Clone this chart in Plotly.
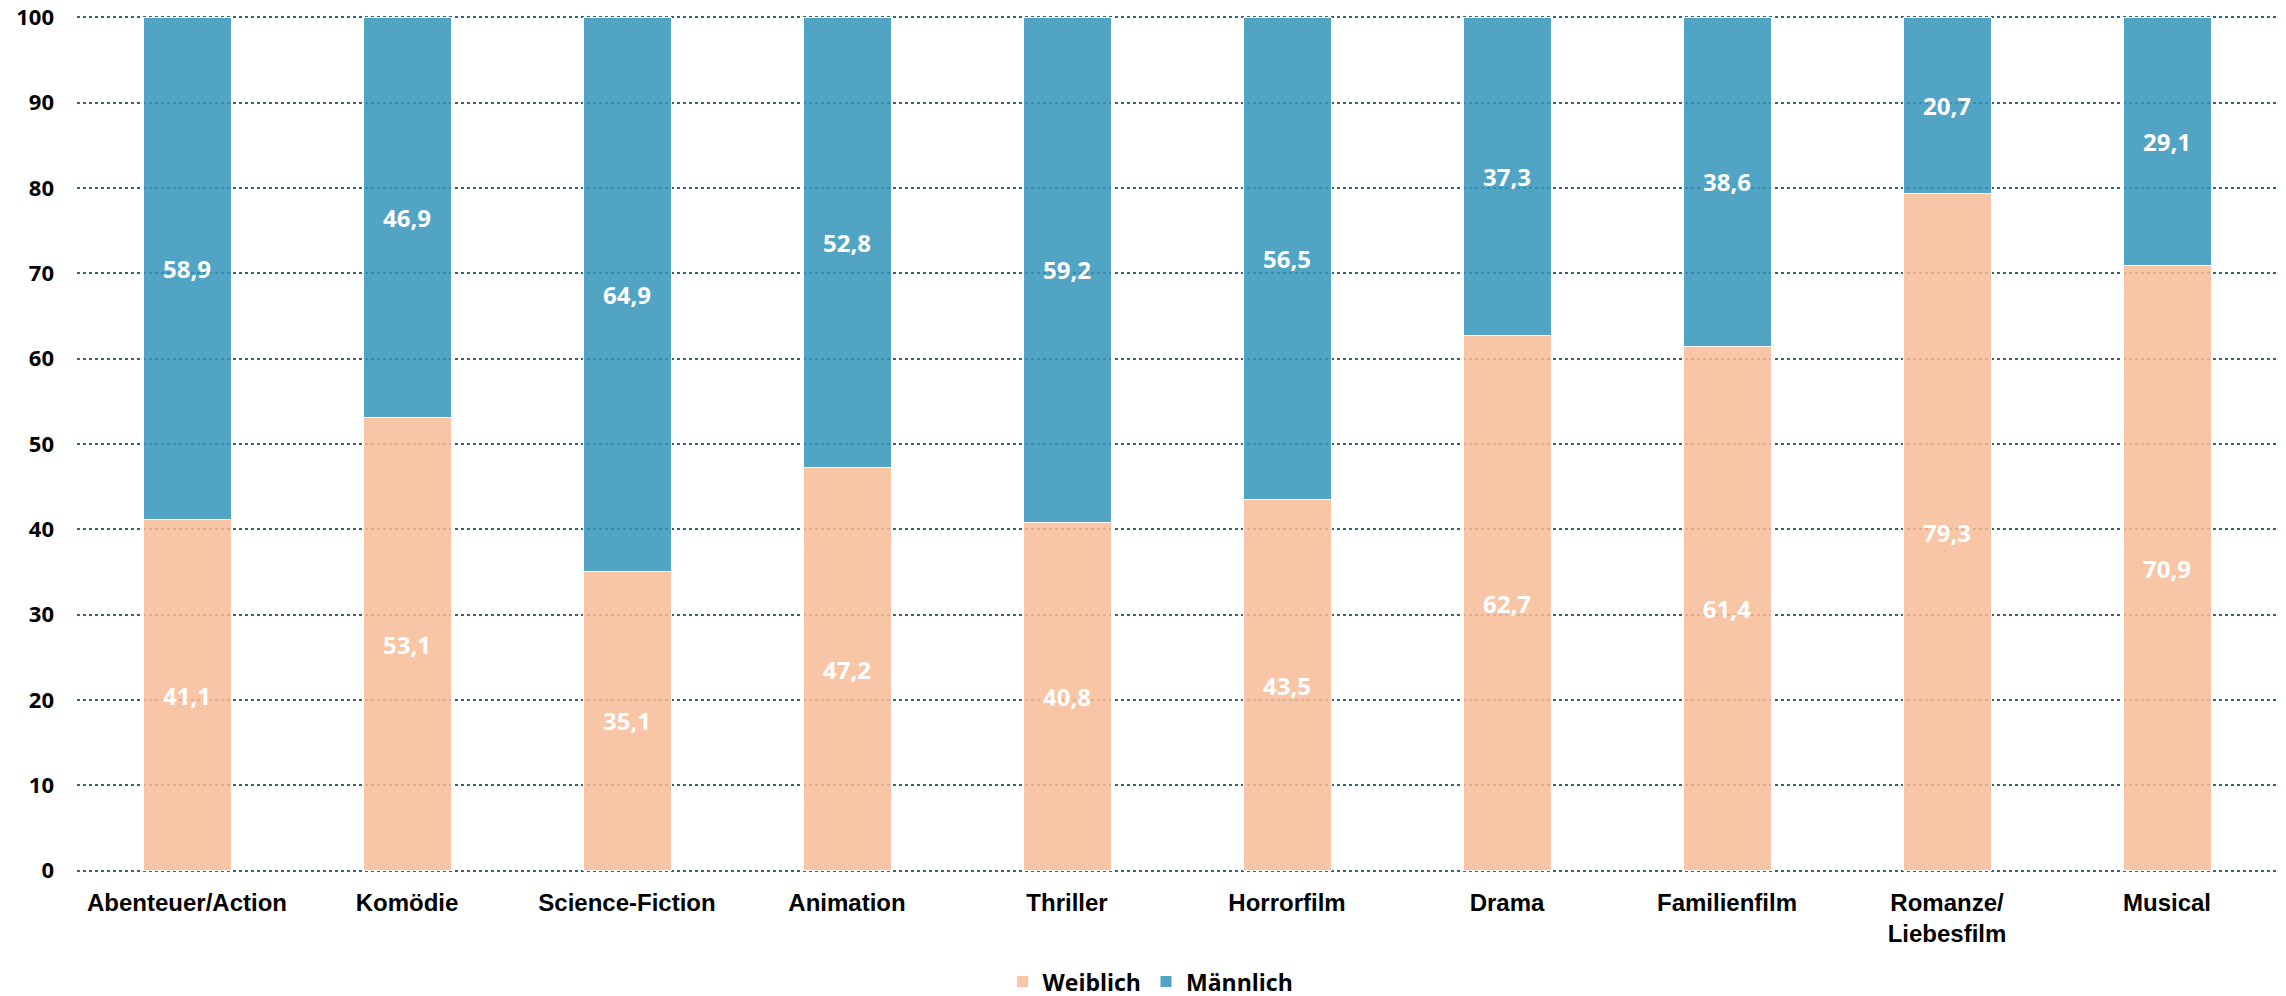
import plotly.graph_objects as go

categories = ["Abenteuer/Action", "Komödie", "Science-Fiction", "Animation", "Thriller",
              "Horrorfilm", "Drama", "Familienfilm", "Romanze/<br>Liebesfilm", "Musical"]
weiblich = [41.1, 53.1, 35.1, 47.2, 40.8, 43.5, 62.7, 61.4, 79.3, 70.9]
maennlich = [58.9, 46.9, 64.9, 52.8, 59.2, 56.5, 37.3, 38.6, 20.7, 29.1]
y_ticks = [0, 10, 20, 30, 40, 50, 60, 70, 80, 90, 100]


def fmt(v):
    return f"{v:.1f}".replace(".", ",")


label_font = dict(family="Open Sans", size=24, color="white")

fig = go.Figure()
fig.add_trace(go.Bar(
    name="Weiblich", x=categories, y=weiblich,
    marker=dict(color="rgba(247,188,151,0.86)", line=dict(color="white", width=1)),
    text=[f"<b>{fmt(v)}</b>" for v in weiblich],
    textposition="inside", insidetextanchor="middle", textfont=label_font,
    width=0.4,
))
fig.add_trace(go.Bar(
    name="Männlich", x=categories, y=maennlich,
    marker=dict(color="rgba(52,149,186,0.86)", line=dict(color="white", width=1)),
    text=[f"<b>{fmt(v)}</b>" for v in maennlich],
    textposition="inside", insidetextanchor="middle", textfont=label_font,
    width=0.4,
))

fig.update_layout(
    barmode="stack",
    width=2286, height=996,
    margin=dict(l=77, r=9, t=16, b=124, autoexpand=False),
    plot_bgcolor="white", paper_bgcolor="white",
    uniformtext=dict(mode=False),
    legend=dict(
        orientation="h", x=0.488, xanchor="center", y=-0.128, yanchor="middle",
        font=dict(family="Open Sans", size=23, color="black", weight="bold"),
        itemwidth=30, traceorder="normal",
    ),
    xaxis=dict(
        tickfont=dict(family="Liberation Sans, Arial", size=24, color="black", weight="bold"),
        showline=False, ticks="", showgrid=False, ticklabelstandoff=14,
    ),
    yaxis=dict(
        range=[-0.15, 100.15], tickvals=y_ticks,
        tickfont=dict(family="Open Sans", size=22, color="black", weight="bold"),
        showgrid=True, gridcolor="#2B6A76", gridwidth=2, griddash="dot",
        zeroline=False, showline=False, ticks="", ticklabelstandoff=22,
    ),
)

fig.write_html(
    "out.html",
    config={"displayModeBar": False},
    post_script="document.body.style.margin='0';document.body.style.overflow='hidden';",
)
